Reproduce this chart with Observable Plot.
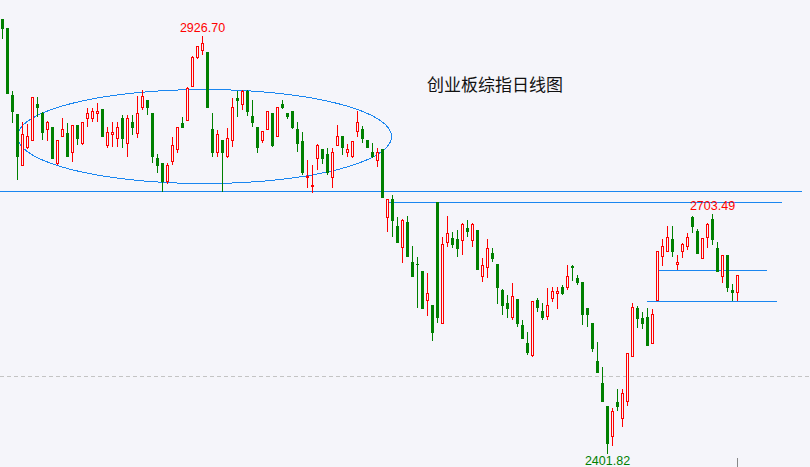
<!DOCTYPE html>
<html><head><meta charset="utf-8">
<script src="https://cdn.jsdelivr.net/npm/d3@7"></script>
<script src="https://cdn.jsdelivr.net/npm/@observablehq/plot@0.6"></script>
<style>
html,body{margin:0;padding:0;background:#f5f5fa;}
#chart{width:810px;height:467px;overflow:hidden}
</style></head><body><div id="chart"></div>
<script>
const title = "创业板综指日线图";
const opens = [2946.8,2936.7,2852.6,2827.5,2764.7,2786.1,2796.1,2840.1,2830.0,2809.9,
2811.2,2767.2,2799.9,2803.7,2781.0,2813.7,2792.3,2823.7,2823.7,2830.0,
2833.8,2788.6,2802.4,2797.4,2823.7,2792.3,2818.7,2803.7,2836.3,2846.3,
2830.0,2773.5,2766.0,2743.4,2768.5,2783.6,2816.2,2820.0,2862.7,2900.3,
2909.1,2906.6,2809.9,2781.0,2794.9,2774.8,2794.9,2847.6,2840.1,2857.6,
2825.0,2812.4,2796.1,2809.9,2828.8,2801.1,2840.1,2828.8,2831.3,2809.9,
2793.6,2748.4,2737.1,2772.3,2783.6,2778.5,2748.4,2788.6,2799.9,2781.0,
2774.8,2806.2,2809.9,2796.1,2779.8,2769.8,2783.6,2698.2,2722.0,2686.9,
2660.5,2691.9,2641.7,2640.4,2630.4,2594.0,2587.7,2717.0,2565.1,2668.0,
2671.8,2670.6,2669.3,2685.6,2669.3,2681.9,2624.1,2635.4,2654.2,2639.2,
2606.5,2590.2,2572.6,2595.2,2563.8,2541.2,2524.9,2594.0,2580.2,2573.9,
2597.7,2602.8,2611.5,2610.3,2636.7,2621.6,2616.6,2583.9,2565.1,2518.6,
2489.8,2460.9,2423.2,2465.9,2445.8,2467.2,2523.7,2583.9,2571.4,2572.6,
2541.2,2594.0,2649.2,2655.5,2670.6,2640.4,2655.5,2661.8,2699.4,2680.6,
2646.7,2673.1,2696.9,2659.3,2624.1,2650.5,2606.5,2604.0];
const highs = [2946.8,2936.7,2857.6,2827.5,2818.7,2816.2,2850.1,2850.1,2831.3,2820.0,
2812.4,2796.1,2823.7,2817.5,2815.0,2815.0,2818.7,2836.3,2836.3,2842.6,
2833.8,2812.4,2818.7,2818.7,2827.5,2827.5,2827.5,2851.4,2858.9,2846.3,
2830.0,2778.5,2767.2,2767.2,2799.9,2812.4,2825.0,2862.7,2901.6,2914.1,
2926.70,2906.6,2830.0,2808.7,2794.9,2811.2,2848.9,2857.6,2858.9,2858.9,
2846.3,2812.4,2807.4,2831.3,2830.0,2837.5,2846.3,2828.8,2831.3,2818.7,
2806.2,2771.0,2764.7,2791.1,2783.6,2786.1,2786.1,2815.0,2799.9,2791.1,
2793.6,2832.5,2813.7,2796.1,2792.3,2786.1,2783.6,2722.0,2727.1,2699.4,
2696.9,2700.7,2663.0,2649.2,2630.4,2629.1,2587.7,2717.0,2674.3,2700.7,
2680.6,2683.1,2691.9,2695.7,2691.9,2681.9,2648.0,2671.8,2660.5,2639.2,
2609.0,2601.5,2616.6,2595.2,2570.1,2555.0,2592.7,2597.7,2591.5,2610.3,
2611.5,2611.5,2614.1,2639.2,2639.2,2626.6,2616.6,2583.9,2565.1,2542.5,
2511.1,2460.9,2459.6,2483.5,2483.5,2527.4,2591.5,2587.7,2580.2,2585.2,
2583.9,2655.5,2671.8,2688.1,2688.1,2651.7,2666.8,2679.3,2701.0,2684.4,
2671.8,2691.9,2703.49,2668.0,2650.5,2650.5,2615.3,2625.4];
const lows = [2922.9,2855.1,2817.5,2745.9,2764.7,2784.8,2794.9,2825.0,2796.1,2794.9,
2773.5,2764.7,2799.9,2774.8,2768.5,2789.8,2789.8,2812.4,2818.7,2818.7,
2799.9,2786.1,2787.3,2787.3,2786.1,2774.8,2802.4,2798.6,2833.8,2827.5,
2767.2,2754.7,2730.8,2740.9,2764.7,2779.8,2812.4,2820.0,2862.7,2897.8,
2902.8,2836.3,2774.8,2774.8,2730.8,2773.5,2787.3,2825.0,2833.8,2826.3,
2812.4,2779.8,2792.3,2808.7,2787.3,2801.1,2835.0,2822.5,2809.9,2781.0,
2752.2,2735.9,2729.6,2758.4,2766.0,2752.2,2735.9,2788.6,2777.3,2774.8,
2773.5,2799.9,2792.3,2786.1,2773.5,2762.2,2723.3,2680.6,2674.3,2666.8,
2641.7,2649.2,2624.1,2585.2,2583.9,2575.1,2543.7,2566.3,2565.1,2661.8,
2660.5,2649.2,2651.7,2674.3,2661.8,2634.1,2617.8,2622.8,2642.9,2590.2,
2576.4,2572.6,2570.1,2561.3,2546.3,2526.2,2523.7,2580.2,2570.1,2570.1,
2592.7,2583.9,2601.5,2607.8,2619.1,2614.1,2563.8,2561.3,2529.9,2503.6,
2467.2,2401.82,2411.9,2455.9,2435.8,2462.1,2523.7,2560.1,2558.8,2537.5,
2541.2,2594.0,2637.9,2655.5,2649.2,2632.9,2648.0,2658.0,2679.3,2654.2,
2646.7,2660.5,2664.3,2630.4,2616.6,2605.3,2594.0,2594.0];
const closes = [2936.7,2855.1,2831.3,2774.8,2802.4,2799.9,2848.9,2837.5,2804.9,2818.7,
2773.5,2796.1,2808.7,2776.0,2813.7,2798.6,2818.7,2830.0,2832.5,2832.5,
2799.9,2804.9,2804.9,2812.4,2797.4,2823.7,2811.2,2830.0,2850.1,2837.5,
2776.0,2763.5,2743.4,2763.5,2788.6,2811.2,2812.4,2861.4,2899.1,2912.9,
2917.9,2836.3,2781.0,2802.4,2779.8,2798.6,2837.5,2845.1,2856.4,2832.5,
2818.7,2787.3,2806.2,2831.3,2789.8,2837.5,2837.5,2825.0,2812.4,2791.1,
2754.7,2749.7,2739.6,2789.8,2772.3,2755.9,2781.0,2799.9,2787.3,2783.6,
2793.6,2818.7,2798.6,2787.3,2774.8,2781.0,2723.3,2722.0,2694.4,2666.8,
2694.4,2649.2,2624.1,2639.2,2583.9,2602.8,2553.8,2572.6,2664.3,2679.3,
2665.5,2659.3,2690.6,2680.6,2689.4,2634.1,2637.9,2659.3,2646.7,2610.3,
2588.9,2583.9,2599.0,2566.3,2546.3,2528.7,2592.7,2585.2,2572.6,2588.9,
2605.3,2605.3,2602.8,2624.1,2635.4,2616.6,2576.4,2576.4,2533.7,2503.6,
2467.2,2414.4,2454.6,2460.9,2478.4,2527.4,2586.4,2571.4,2566.3,2537.5,
2577.6,2655.5,2661.8,2674.3,2655.5,2641.7,2664.3,2674.3,2686.9,2654.2,
2671.8,2690.6,2670.6,2630.4,2650.5,2611.5,2604.0,2625.4];

// extreme value labels
const labelIndex = [40, 121, 142];
const labelValue = [2926.70, 2401.82, 2703.49];
const labelText = ["2926.70", "2401.82", "2703.49"];
const labelSide = ["above", "below", "above"];

// drawn horizontal lines (level, first bar index, last bar index)
const lineLevels = [2731.7, 2717.9, 2633.3, 2593.6];
const lineStarts = [-0.4, 77, 131, 129];
const lineEnds = [160, 156, 153, 155];
const gridLevel = 2500;

// drawn ellipse (centre bar index & level, half-width in bars, half-height in points)
const ellipseCenter = [40.4, 2801.1];
const ellipseRadius = [37.4, 59.0];

const RED = "#ff0000", GREEN = "#008000", BLUE = "#1a86f0", BG = "#f5f5fa";

const bars = opens.map((o, i) => ({i, open: o, high: highs[i], low: lows[i], close: closes[i]}));
const ups = bars.filter(d => d.close >= d.open);
const downs = bars.filter(d => d.close < d.open);

const hLines = lineLevels.map((v, k) => ({v, x1: lineStarts[k], x2: lineEnds[k]}));
const labels = labelIndex.map((i, k) => ({i, v: labelValue[k], t: labelText[k], side: labelSide[k]}));
const ell = d3.range(0, 181).map(k => {
  const a = k / 180 * 2 * Math.PI;
  return {x: ellipseCenter[0] + ellipseRadius[0] * Math.cos(a), y: ellipseCenter[1] + ellipseRadius[1] * Math.sin(a)};
});

const crisp = {shapeRendering: "crispEdges"};
const chart = Plot.plot({
  width: 810, height: 467, margin: 0,
  x: {domain: [-0.4, 161.6], axis: null},
  y: {domain: [2385.5, 2971.9], axis: null},
  style: {background: BG, fontFamily: "Liberation Sans, Arial, sans-serif"},
  marks: [
    Plot.ruleY([gridLevel], {stroke: "#c4c4c4", strokeDasharray: "4,3", ...crisp}),
    Plot.ruleY(hLines, {y: "v", x1: "x1", x2: "x2", stroke: BLUE, strokeWidth: 1, ...crisp}),
    Plot.line(ell, {x: "x", y: "y", stroke: BLUE, strokeWidth: 1, ...crisp}),
    Plot.ruleX(ups, {x: "i", y1: "low", y2: "high", stroke: RED, ...crisp}),
    Plot.ruleX(downs, {x: "i", y1: "low", y2: "high", stroke: GREEN, ...crisp}),
    Plot.rect(ups, {x1: d => d.i - 0.2, x2: d => d.i + 0.2, y1: "open", y2: "close", fill: BG, stroke: RED, strokeWidth: 1, ...crisp}),
    Plot.rect(downs, {x1: d => d.i - 0.2, x2: d => d.i + 0.2, y1: "open", y2: "close", fill: GREEN, stroke: GREEN, strokeWidth: 1, ...crisp}),
    Plot.ruleX([147], {y1: 2385.5, y2: 2396.9, stroke: "#888", ...crisp}),
    Plot.text(labels.filter(d => d.side === "above"), {x: "i", y: "v", text: "t", dy: -8, fill: RED, fontSize: 12.5}),
    Plot.text(labels.filter(d => d.side === "below"), {x: "i", y: "v", text: "t", dy: 6.5, fill: GREEN, fontSize: 12.5}),
    Plot.text([title], {frameAnchor: "top-left", dx: 494.5, dy: 85, textAnchor: "middle", lineAnchor: "middle", fontSize: 17, fill: "#111", fontFamily: "Noto Sans CJK SC"})
  ]
});
document.getElementById("chart").appendChild(chart);
</script></body></html>
